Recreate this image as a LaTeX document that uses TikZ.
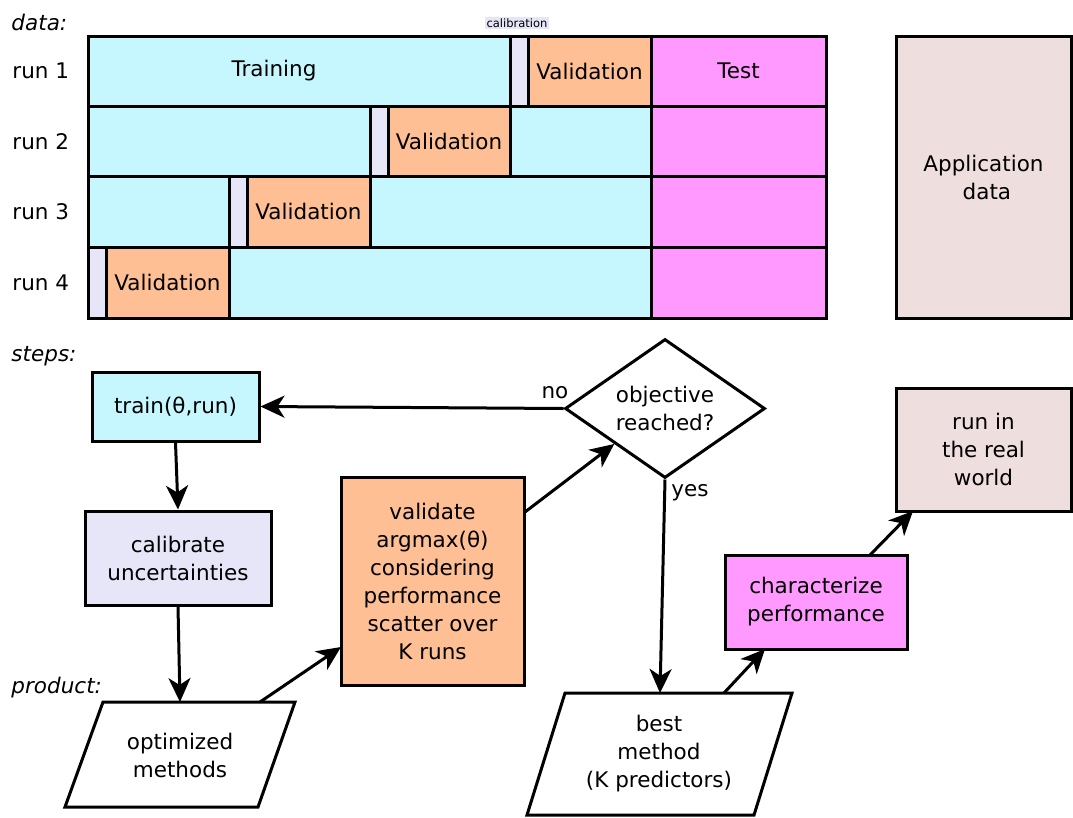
\documentclass[tikz,border=0pt]{standalone}
\usepackage{fontspec}
\setmainfont{DejaVu Sans}
\usetikzlibrary{arrows.meta,shapes.geometric}
\definecolor{trn}{HTML}{C6F7FE}
\definecolor{cal}{HTML}{E6E6F8}
\definecolor{val}{HTML}{FFBF95}
\definecolor{tst}{HTML}{FF99FF}
\definecolor{app}{HTML}{EEDEDE}
\begin{document}
\begin{tikzpicture}[x=1pt,y=-1pt,line width=3pt,
  every node/.style={font=\fontsize{21.5}{28}\selectfont, align=center, inner sep=0pt},
  lbl/.style={font=\fontsize{21.5}{28}\selectfont\itshape, anchor=west},
  cell/.style={draw, line width=3pt},
  boxst/.style={draw, line width=3pt, rectangle},
  arr/.style={-{Stealth[length=24pt,width=22pt,inset=7pt]}, line width=3pt}]
\useasboundingbox (0,0) rectangle (1073,817);
% labels
\node[lbl] (ldata) at (10,22) {data:};
\node[lbl] (lsteps) at (10,356) {steps:};
\node[lbl] (lprod) at (10,688) {product:};
\node[anchor=west] (r1) at (11,71) {run 1};
\node[anchor=west] (r2) at (11,142) {run 2};
\node[anchor=west] (r3) at (11,212) {run 3};
\node[anchor=west] (r4) at (11,283) {run 4};
% run 1
\draw[cell,fill=trn] (88,36) rectangle (510,106);
\draw[cell,fill=cal] (510,36) rectangle (528,106);
\draw[cell,fill=val] (528,36) rectangle (651,106);
\draw[cell,fill=tst] (651,36) rectangle (826,106);
\node (tr1) at (274,71) {Training};
\node (va1) at (589.5,71) {Validation};
\node (te1) at (738.5,71) {Test};
% run 2
\draw[cell,fill=trn] (88,106) rectangle (370,176);
\draw[cell,fill=cal] (370,106) rectangle (388,176);
\draw[cell,fill=val] (388,106) rectangle (510,176);
\draw[cell,fill=trn] (510,106) rectangle (651,176);
\draw[cell,fill=tst] (651,106) rectangle (826,176);
\node (va2) at (449,141) {Validation};
% run 3
\draw[cell,fill=trn] (88,176) rectangle (229,247);
\draw[cell,fill=cal] (229,176) rectangle (247,247);
\draw[cell,fill=val] (247,176) rectangle (370,247);
\draw[cell,fill=trn] (370,176) rectangle (651,247);
\draw[cell,fill=tst] (651,176) rectangle (826,247);
\node (va3) at (308.5,211) {Validation};
% run 4
\draw[cell,fill=cal] (88,247) rectangle (106,318);
\draw[cell,fill=val] (106,247) rectangle (229,318);
\draw[cell,fill=trn] (229,247) rectangle (651,318);
\draw[cell,fill=tst] (651,247) rectangle (826,318);
\node (va4) at (167.5,282) {Validation};
% calibration label
\node[fill=cal, font=\fontsize{11.5}{13}\selectfont, inner sep=1.5pt] (calib) at (517,23) {calibration};
% application data
\node[boxst, fill=app, minimum width=175, minimum height=282] (appd) at (983.5,177) {Application\\\ data};
% flow
\node[boxst, fill=trn, minimum width=167, minimum height=69] (train) at (175.5,406.5) {train(θ,run)};
\node[boxst, fill=cal, minimum width=186, minimum height=94] (calibr) at (178,558) {calibrate\\uncertainties};
\node[boxst, fill=val, minimum width=183, minimum height=208] (valid) at (432.5,581) {validate\\argmax(θ)\\considering\\performance\\scatter over\\K runs};
\node[draw, diamond, line width=3pt, fill=white, aspect=1.44, minimum width=200, minimum height=139] (dia) at (665,408.5) {objective\\reached?};
\node[boxst, fill=tst, minimum width=182, minimum height=94] (charp) at (816,602) {characterize\\performance};
\node[boxst, fill=app, minimum width=175, minimum height=123] (world) at (983.5,449.5) {run in\\the real\\world};
% parallelograms
\draw[line width=3pt, fill=white] (103,702) -- (295,702) -- (258,807) -- (65,807) -- cycle;
\node (opt) at (180,755) {optimized\\methods};
\draw[line width=3pt, fill=white] (565,693) -- (792,693) -- (754,815) -- (527,815) -- cycle;
\node (best) at (659,754) {best\\method\\(K predictors)};
\coordinate (opttop) at (180,702);
\coordinate (optout) at (260,702);
\coordinate (valin) at (341,647);
\coordinate (valout) at (525,512);
\coordinate (besttop) at (660,693);
\coordinate (bestout) at (724,693);
\coordinate (charin) at (765,649);
\coordinate (charout) at (870,555);
\coordinate (worldin) at (913,511);
% arrows
\draw[arr] (dia.west) -- (train.east);
\node (no) at (555,393) {no};
\draw[arr] (train.south) -- (calibr.north);
\draw[arr] (calibr.south) -- (opttop);
\draw[arr] (optout) -- (valin);
\draw[arr] (valout) -- (dia.south west);
\draw[arr] (dia.south) -- (besttop);
\node (yes) at (690,493) {yes};
\draw[arr] (bestout) -- (charin);
\draw[arr] (charout) -- (worldin);
\end{tikzpicture}
\end{document}
